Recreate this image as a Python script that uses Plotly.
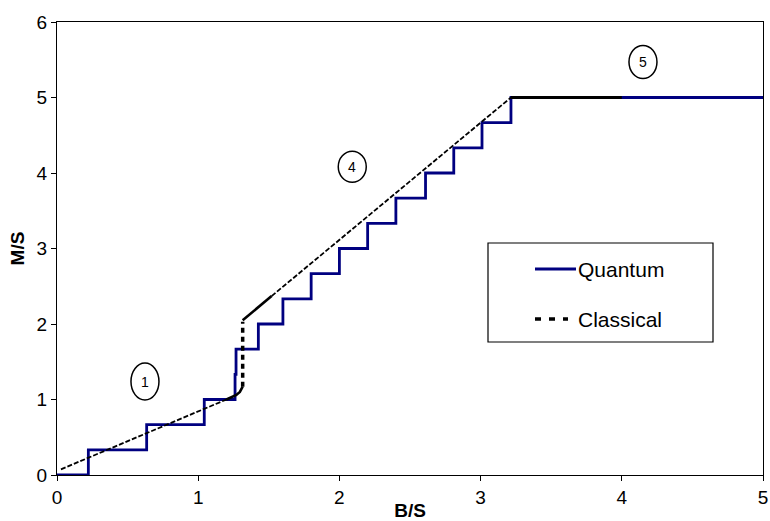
import plotly.graph_objects as go

# Quantum magnetisation staircase (hv steps)
quantum_b = [0.0, 0.222, 0.635, 1.043, 1.261, 1.268, 1.426, 1.60, 1.80, 2.00,
             2.20, 2.40, 2.61, 2.81, 3.01, 3.215, 5.0]
quantum_m = [0.0, 1/3, 2/3, 1.0, 4/3, 5/3, 2.0, 7/3, 8/3, 3.0,
             10/3, 11/3, 4.0, 13/3, 14/3, 5.0, 5.0]

# Classical curve, split into its drawn pieces
classical_low_b = [0.028, 1.225]
classical_low_m = [0.075, 1.02]
classical_bend_b = [1.20, 1.24, 1.27, 1.295, 1.315]
classical_bend_m = [1.00, 1.03, 1.06, 1.10, 1.17]
classical_jump_b = [1.315, 1.315]
classical_jump_m = [1.17, 2.03]
classical_kick_b = [1.315, 1.52]
classical_kick_m = [2.05, 2.37]
classical_ramp_b = [1.52, 3.215]
classical_ramp_m = [2.37, 5.0]
classical_sat_b = [3.215, 4.0]
classical_sat_m = [5.0, 5.0]

# Circled region labels
region_labels = ["1", "4", "5"]
region_b = [0.623, 2.091, 4.15]
region_m = [1.238, 4.083, 5.47]
region_h = [37, 31, 33]

x_ticks = [0, 1, 2, 3, 4, 5]
y_ticks = [0, 1, 2, 3, 4, 5, 6]

FONT = "Arial, Liberation Sans, Helvetica, sans-serif"
NAVY = "#000080"

fig = go.Figure()

fig.add_trace(go.Scatter(x=quantum_b, y=quantum_m, mode="lines", line_shape="hv",
                         line=dict(color=NAVY, width=2.8), showlegend=False))

thin = dict(color="black", width=1.8, dash="5px,2px")
fig.add_trace(go.Scatter(x=classical_low_b, y=classical_low_m, mode="lines",
                         line=thin, showlegend=False))
fig.add_trace(go.Scatter(x=classical_bend_b, y=classical_bend_m, mode="lines",
                         line=dict(color="black", width=2.6), showlegend=False))
fig.add_trace(go.Scatter(x=classical_jump_b, y=classical_jump_m, mode="lines",
                         line=dict(color="black", width=3.5, dash="5px,4px"),
                         showlegend=False))
fig.add_trace(go.Scatter(x=classical_kick_b, y=classical_kick_m, mode="lines",
                         line=dict(color="black", width=2.6), showlegend=False))
fig.add_trace(go.Scatter(x=classical_ramp_b, y=classical_ramp_m, mode="lines",
                         line=thin, showlegend=False))
fig.add_trace(go.Scatter(x=classical_sat_b, y=classical_sat_m, mode="lines",
                         line=dict(color="black", width=3), showlegend=False))

shapes = []
annotations = []
for lab, b, m, h in zip(region_labels, region_b, region_m, region_h):
    shapes.append(dict(type="circle", xref="x", yref="y", xsizemode="pixel",
                       ysizemode="pixel", xanchor=b, yanchor=m,
                       x0=-14, x1=14, y0=-h / 2, y1=h / 2,
                       line=dict(color="black", width=1.5)))
    annotations.append(dict(x=b, y=m, xref="x", yref="y", text=lab, showarrow=False,
                            font=dict(family=FONT, size=14, color="black")))

# Legend box drawn in paper coordinates
plot_l, plot_r, plot_t, plot_b = 57, 763, 22, 475
pw, ph = plot_r - plot_l, plot_b - plot_t


def px(xp):
    return (xp - plot_l) / pw


def py(yp):
    return (plot_b - yp) / ph


shapes.append(dict(type="rect", xref="paper", yref="paper",
                   x0=px(488), x1=px(713), y0=py(342), y1=py(243),
                   line=dict(color="black", width=1.2), fillcolor="white", layer="above"))
shapes.append(dict(type="line", xref="paper", yref="paper",
                   x0=px(535), x1=px(576), y0=py(269), y1=py(269),
                   line=dict(color=NAVY, width=2.8), layer="above"))
shapes.append(dict(type="line", xref="paper", yref="paper",
                   x0=px(535), x1=px(568), y0=py(319), y1=py(319),
                   line=dict(color="black", width=3.5, dash="6px,8px"), layer="above"))
annotations.append(dict(x=px(576), y=py(269), xref="paper", yref="paper",
                        text="Quantum", showarrow=False, xanchor="left", yanchor="middle",
                        font=dict(family=FONT, size=21, color="black")))
annotations.append(dict(x=px(576), y=py(319), xref="paper", yref="paper",
                        text="Classical", showarrow=False, xanchor="left", yanchor="middle",
                        font=dict(family=FONT, size=21, color="black")))

axis_common = dict(showgrid=False, zeroline=False, showline=True, linecolor="black",
                   linewidth=1.3, mirror=True, ticks="outside", ticklen=5,
                   tickcolor="black", tickwidth=1.2, automargin=False,
                   tickfont=dict(family=FONT, size=19, color="black"))

fig.update_layout(
    width=770, height=521,
    margin=dict(l=plot_l, r=770 - plot_r, t=plot_t, b=521 - plot_b, autoexpand=False),
    paper_bgcolor="white", plot_bgcolor="white",
    showlegend=False,
    xaxis=dict(range=[0, 5], tickvals=x_ticks, **axis_common,
               title=dict(text="<b>B/S</b>", standoff=0,
                          font=dict(family=FONT, size=19, color="black"))),
    yaxis=dict(range=[0, 6], tickvals=y_ticks, **axis_common,
               title=dict(text="<b>M/S</b>", standoff=6,
                          font=dict(family=FONT, size=19, color="black"))),
    shapes=shapes,
    annotations=annotations,
)

fig.write_html("out.html")
